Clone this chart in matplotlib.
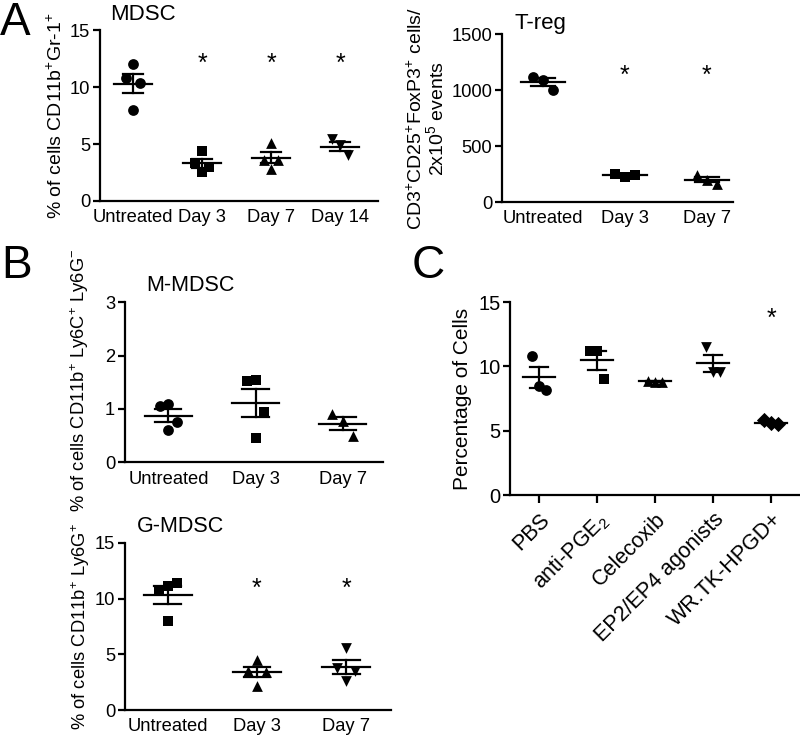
import numpy as np
import matplotlib
matplotlib.use("Agg")
import matplotlib.pyplot as plt

plt.rcParams["font.family"] = ["Liberation Sans", "DejaVu Sans"]
plt.rcParams["mathtext.fontset"] = "custom"
plt.rcParams["mathtext.rm"] = "Liberation Sans"
plt.rcParams["mathtext.it"] = "Liberation Sans:italic"
plt.rcParams["mathtext.bf"] = "Liberation Sans:bold"

# ---- data ----
mdsc_groups = ["Untreated", "Day 3", "Day 7", "Day 14"]
mdsc_vals = [[12.0, 10.8, 10.4, 8.0],
             [4.4, 3.3, 3.0, 2.5],
             [5.1, 3.6, 3.6, 2.8],
             [5.4, 4.9, 4.0]]
mdsc_star = [False, True, True, True]

treg_groups = ["Untreated", "Day 3", "Day 7"]
treg_vals = [[1120, 1090, 1000],
             [250, 225, 245],
             [240, 200, 160]]
treg_star = [False, True, True]

mm_groups = ["Untreated", "Day 3", "Day 7"]
mm_vals = [[1.1, 1.05, 0.75, 0.6],
           [1.55, 1.52, 0.95, 0.45],
           [0.9, 0.78, 0.5]]

gm_groups = ["Untreated", "Day 3", "Day 7"]
gm_vals = [[11.1, 10.8, 11.4, 8.0],
           [4.5, 3.5, 3.4, 2.2],
           [5.6, 3.8, 3.5, 2.6]]
gm_star = [False, True, True]

c_groups = ["PBS", "anti-PGE$_2$", "Celecoxib", "EP2/EP4 agonists", "WR.TK-HPGD+"]
c_vals = [[10.8, 8.5, 8.2],
          [11.2, 11.2, 9.0],
          [8.9, 8.8, 8.8],
          [11.5, 9.6, 9.6],
          [5.8, 5.6, 5.5]]
c_star = [False, False, False, False, True]

markers = ["o", "s", "^", "v", "D"]
jitter = {3: [-0.12, 0.0, 0.12], 4: [0.0, -0.1, 0.1, 0.0]}

FS = 13.2


def dot_plot(ax, groups, vals, mks, star=None, star_y=None, ms=60):
    for i, v in enumerate(vals):
        v = np.array(v, dtype=float)
        off = np.array(jitter[len(v)][:len(v)])
        ax.scatter(i + off, v, marker=mks[i], s=ms, color="black", zorder=3,
                   linewidths=0)
        m = v.mean()
        sem = v.std(ddof=1) / np.sqrt(len(v))
        ax.plot([i - 0.27, i + 0.27], [m, m], color="black", lw=1.6, zorder=2)
        ax.plot([i, i], [m - sem, m + sem], color="black", lw=1.6, zorder=2)
        ax.plot([i - 0.15, i + 0.15], [m + sem] * 2, color="black", lw=1.6, zorder=2)
        ax.plot([i - 0.15, i + 0.15], [m - sem] * 2, color="black", lw=1.6, zorder=2)
        if star is not None and star[i]:
            ax.text(i, star_y, "*", ha="center", va="center", fontsize=18)
    ax.set_xticks(range(len(groups)))
    ax.set_xticklabels(groups, fontsize=FS)
    for s in ["top", "right"]:
        ax.spines[s].set_visible(False)
    for s in ["left", "bottom"]:
        ax.spines[s].set_linewidth(1.6)
    ax.tick_params(axis="y", labelsize=FS, width=1.6, length=5, pad=2)
    ax.tick_params(axis="x", length=0, pad=6)


fig = plt.figure(figsize=(8, 7.36), dpi=100)

# A left
ax1 = fig.add_axes([0.125, 0.727, 0.3475, 0.232])
dot_plot(ax1, mdsc_groups, mdsc_vals, ["o", "s", "^", "v"], mdsc_star, 12.0)
ax1.set_ylim(0, 15)
ax1.set_yticks([0, 5, 10, 15])
ax1.set_xlim(-0.48, 3.55)
ax1.set_ylabel("% of cells CD11b$^{+}$Gr-1$^{+}$", fontsize=14, labelpad=3)
ax1.set_title("MDSC", fontsize=16, loc="left", x=0.035, y=1.0, pad=7)

# A right
ax2 = fig.add_axes([0.6275, 0.7255, 0.289, 0.228])
dot_plot(ax2, treg_groups, treg_vals, ["o", "s", "^"], treg_star, 1130)
ax2.set_ylim(0, 1500)
ax2.set_yticks([0, 500, 1000, 1500])
ax2.set_xlim(-0.5, 2.32)
ax2.set_ylabel("CD3$^{+}$CD25$^{+}$FoxP3$^{+}$ cells/\n2x10$^{5}$ events",
               fontsize=14, labelpad=3, linespacing=1.0)
ax2.set_title("T-reg", fontsize=16, loc="left", x=0.056, y=1.0, pad=4)

# B top
ax3 = fig.add_axes([0.156, 0.372, 0.3225, 0.217])
dot_plot(ax3, mm_groups, mm_vals, ["o", "s", "^"])
ax3.set_ylim(0, 3)
ax3.set_yticks([0, 1, 2, 3])
ax3.set_xlim(-0.5, 2.46)
ax3.set_ylabel("% of cells CD11b$^{+}$ Ly6C$^{+}$ Ly6G$^{-}$", fontsize=13.2)
ax3.yaxis.set_label_coords(-0.13, 0.51)
ax3.set_title("M-MDSC", fontsize=15.5, loc="left", x=0.085, y=1.0, pad=8)

# B bottom
ax4 = fig.add_axes([0.156, 0.0353, 0.3325, 0.227])
dot_plot(ax4, gm_groups, gm_vals, ["s", "^", "v"], gm_star, 10.9)
ax4.set_ylim(0, 15)
ax4.set_yticks([0, 5, 10, 15])
ax4.set_xlim(-0.48, 2.5)
ax4.set_ylabel("% of cells CD11b$^{+}$ Ly6G$^{+}$", fontsize=13.2)
ax4.yaxis.set_label_coords(-0.125, 0.5)
ax4.set_title("G-MDSC", fontsize=15.5, loc="left", x=0.045, y=1.0, pad=8)

# C
ax5 = fig.add_axes([0.6375, 0.3274, 0.3625, 0.262])
dot_plot(ax5, c_groups, c_vals, markers, c_star, 13.7)
ax5.set_ylim(0, 15)
ax5.set_yticks([0, 5, 10, 15])
ax5.set_xlim(-0.5, 4.5)
ax5.tick_params(axis="x", length=6, width=1.6, pad=4)
plt.setp(ax5.get_xticklabels(), rotation=45, ha="right", rotation_mode="anchor",
         fontsize=15.5)
ax5.tick_params(axis="y", labelsize=14.5)
ax5.set_ylabel("Percentage of Cells", fontsize=15, labelpad=4)

# panel letters
fig.text(0.0, 0.999, "A", fontsize=33, va="top", ha="left")
fig.text(0.002, 0.669, "B", fontsize=33, va="top", ha="left")
fig.text(0.514, 0.669, "C", fontsize=33, va="top", ha="left")

fig.savefig("out.png", dpi=100)
